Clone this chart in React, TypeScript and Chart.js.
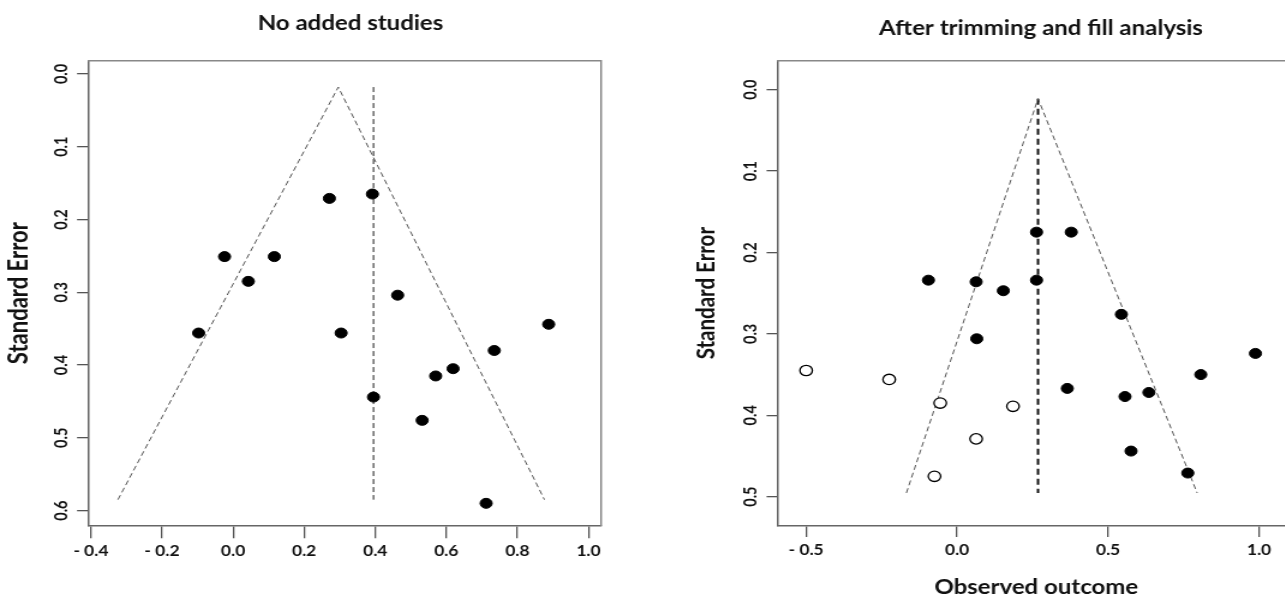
import React, { useEffect, useRef } from "react";
import { Chart, registerables } from "chart.js";

Chart.register(...registerables);

const FONT = "Lato, 'Open Sans', sans-serif";
Chart.defaults.font.family = FONT;

// horizontal stretch of the reference picture
const SX = 1.2;
const H = 598;

// ---------------- shared text ----------------
const yAxisTitle = "Standard Error";
const xAxisTitle = "Observed outcome";

// ---------------- left panel ----------------
const leftTitle = "No added studies";
const leftEffect = [0.271, 0.392, -0.024, 0.116, 0.043, 0.463, -0.097, 0.304, 0.888, 0.735, 0.619, 0.57, 0.395, 0.532, 0.712];
const leftSE = [0.171, 0.165, 0.251, 0.251, 0.285, 0.304, 0.356, 0.356, 0.344, 0.38, 0.405, 0.415, 0.444, 0.476, 0.59];
const leftFunnelEffect = [-0.324, 0.296, 0.876];
const leftFunnelSE = [0.585, 0.018, 0.585];
const leftCentreEffect = [0.395, 0.395];
const leftCentreSE = [0.018, 0.585];
const leftXTicks = [-0.4, -0.2, 0.0, 0.2, 0.4, 0.6, 0.8, 1.0];
const leftYTicks = [0.0, 0.1, 0.2, 0.3, 0.4, 0.5, 0.6];

// ---------------- right panel ----------------
const rightTitle = "After trimming and fill analysis";
const rightEffect = [0.263, 0.378, -0.095, 0.063, 0.153, 0.263, 0.544, 0.065, 0.988, 0.807, 0.365, 0.556, 0.635, 0.576, 0.764];
const rightSE = [0.175, 0.175, 0.234, 0.236, 0.247, 0.234, 0.276, 0.306, 0.324, 0.35, 0.367, 0.377, 0.372, 0.444, 0.471];
const rightFilledEffect = [-0.5, -0.225, -0.056, 0.185, 0.063, -0.075];
const rightFilledSE = [0.345, 0.356, 0.385, 0.389, 0.429, 0.475];
const rightFunnelEffect = [-0.168, 0.268, 0.795];
const rightFunnelSE = [0.4955, 0.011, 0.4955];
const rightCentreEffect = [0.268, 0.268];
const rightCentreSE = [0.011, 0.4955];
const rightXTicks = [-0.5, 0.0, 0.5, 1.0];
const rightYTicks = [0.0, 0.1, 0.2, 0.3, 0.4, 0.5];

const pts = (xs: number[], ys: number[]) => xs.map((x, i) => ({ x, y: ys[i] }));
const fmtX = (v: number) => (v < 0 ? "- " + Math.abs(v).toFixed(1) : v.toFixed(1));
const fmtY = (v: number) => Math.abs(v).toFixed(1);

type Layout = {
  canvasW: number;
  pageLeft: number;
  xRange: [number, number];
  yRange: [number, number];
  yAxisW: number;
  y2W: number;
  x2H: number;
  xAxisH: number;
  titleSize: number;
  titlePadTop: number;
  yTickLen: number;
  xTickLen: number;
  yTickPad: number;
  xTickPad: number;
  tickSize: number;
  tickWeight: string;
  yTitleSize: number;
  yTitlePadTop: number;
  xTitle: string | null;
  xTitleSize: number;
};

const leftLayout: Layout = {
  canvasW: 584,
  pageLeft: 0,
  xRange: [-0.4053, 1.034],
  yRange: [-0.0178, 0.6202],
  yAxisW: 74.17,
  y2W: 83.67,
  x2H: 25.7,
  xAxisH: 72.7,
  titleSize: 20,
  titlePadTop: 11.3,
  yTickLen: 10,
  xTickLen: 13,
  yTickPad: 3,
  xTickPad: 4.5,
  tickSize: 14.5,
  tickWeight: "bold",
  yTitleSize: 22,
  yTitlePadTop: 2.6,
  xTitle: null,
  xTitleSize: 20,
};

const rightLayout: Layout = {
  canvasW: 668,
  pageLeft: 640,
  xRange: [-0.5923, 1.1168],
  yRange: [-0.0353, 0.5352],
  yAxisW: 115.17,
  y2W: 123,
  x2H: 20.7,
  xAxisH: 72.7,
  titleSize: 20,
  titlePadTop: 16.3,
  yTickLen: 9.75,
  xTickLen: 11.7,
  yTickPad: 3,
  xTickPad: 4.3,
  tickSize: 14.5,
  tickWeight: "bold",
  yTitleSize: 20.5,
  yTitlePadTop: 43.3,
  xTitle: xAxisTitle,
  xTitleSize: 20,
};

const BOX = "#666";
const TICK = "#555";
const TEXT = "#111";

function buildConfig(L: Layout, title: string, datasets: any[], xTicks: number[], yTicks: number[]): any {
  const tickFont = { family: FONT, size: L.tickSize, weight: L.tickWeight, lineHeight: 1.2 };
  return {
    type: "scatter",
    data: { datasets },
    options: {
      animation: false,
      responsive: false,
      maintainAspectRatio: false,
      events: [],
      layout: { padding: 0, autoPadding: false },
      plugins: {
        legend: { display: false },
        tooltip: { enabled: false },
        title: {
          display: true,
          text: title,
          color: TEXT,
          font: { family: FONT, size: L.titleSize, weight: "bold", lineHeight: 1.2 },
          padding: { top: L.titlePadTop, bottom: 0 },
        },
      },
      scales: {
        x: {
          type: "linear",
          position: "bottom",
          min: L.xRange[0],
          max: L.xRange[1],
          afterBuildTicks: (s: any) => {
            s.ticks = xTicks.map((value) => ({ value }));
          },
          afterFit: (s: any) => {
            s.height = L.xAxisH;
          },
          ticks: {
            callback: (v: any) => fmtX(Number(v)),
            font: tickFont,
            color: TEXT,
            padding: L.xTickPad,
            minRotation: 0,
            maxRotation: 0,
            autoSkip: false,
          },
          grid: { display: true, drawOnChartArea: false, drawTicks: true, tickLength: L.xTickLen, color: TICK, lineWidth: 1.3 },
          border: { display: true, color: BOX, width: 1.5 },
          title: L.xTitle
            ? {
                display: true,
                text: L.xTitle,
                color: TEXT,
                font: { family: FONT, size: L.xTitleSize, weight: "bold", lineHeight: 1 },
                padding: { top: 0, bottom: 0 },
              }
            : { display: false },
        },
        y: {
          type: "linear",
          position: "left",
          reverse: true,
          min: L.yRange[0],
          max: L.yRange[1],
          afterBuildTicks: (s: any) => {
            s.ticks = yTicks.map((value) => ({ value }));
          },
          afterFit: (s: any) => {
            s.width = L.yAxisW;
          },
          ticks: {
            callback: (v: any) => fmtY(Number(v)),
            font: tickFont,
            color: TEXT,
            padding: L.yTickPad,
            minRotation: 90,
            maxRotation: 90,
            crossAlign: "center",
            autoSkip: false,
          },
          grid: { display: true, drawOnChartArea: false, drawTicks: true, tickLength: L.yTickLen, color: TICK, lineWidth: 1.3 },
          border: { display: true, color: BOX, width: 1.5 },
          title: {
            display: true,
            text: yAxisTitle,
            color: TEXT,
            font: { family: FONT, size: L.yTitleSize, weight: "bold", lineHeight: 1.2 },
            padding: { top: L.yTitlePadTop, bottom: 0 },
          },
        },
        xTop: {
          type: "linear",
          position: "top",
          min: L.xRange[0],
          max: L.xRange[1],
          ticks: { display: false },
          grid: { display: false },
          border: { display: true, color: "#888", width: 1.5 },
          afterFit: (s: any) => {
            s.height = L.x2H;
          },
        },
        yRight: {
          type: "linear",
          position: "right",
          reverse: true,
          min: L.yRange[0],
          max: L.yRange[1],
          ticks: { display: false },
          grid: { display: false },
          border: { display: true, color: "#888", width: 1.5 },
          afterFit: (s: any) => {
            s.width = L.y2W;
          },
        },
      },
    },
  };
}

const filledPoints = (label: string, xs: number[], ys: number[]) => ({
  label,
  data: pts(xs, ys),
  showLine: false,
  pointRadius: 5,
  pointBackgroundColor: "#000",
  pointBorderColor: "#000",
  pointBorderWidth: 1,
});

const openPoints = (label: string, xs: number[], ys: number[]) => ({
  label,
  data: pts(xs, ys),
  showLine: false,
  pointRadius: 5.2,
  pointBackgroundColor: "#fff",
  pointBorderColor: "#000",
  pointBorderWidth: 1.3,
});

const dashedLine = (label: string, xs: number[], ys: number[], color: string, width: number, dash: number[]) => ({
  label,
  data: pts(xs, ys),
  showLine: true,
  pointRadius: 0,
  borderColor: color,
  borderWidth: width,
  borderDash: dash,
  fill: false,
  tension: 0,
});

function Panel({ layout, config }: { layout: Layout; config: any }) {
  const ref = useRef<HTMLCanvasElement>(null);
  useEffect(() => {
    const chart = new Chart(ref.current as HTMLCanvasElement, config);
    return () => chart.destroy();
  }, []);
  return (
    <canvas
      ref={ref}
      width={layout.canvasW}
      height={H}
      style={{
        position: "absolute",
        left: layout.pageLeft + "px",
        top: "0px",
        width: layout.canvasW * SX + "px",
        height: H + "px",
      }}
    />
  );
}

export default function App() {
  const leftConfig = buildConfig(
    leftLayout,
    leftTitle,
    [
      filledPoints("Studies", leftEffect, leftSE),
      dashedLine("Funnel", leftFunnelEffect, leftFunnelSE, "#555", 1, [5, 3]),
      dashedLine("Estimate", leftCentreEffect, leftCentreSE, "#222", 1, [5, 3]),
    ],
    leftXTicks,
    leftYTicks
  );
  const rightConfig = buildConfig(
    rightLayout,
    rightTitle,
    [
      filledPoints("Observed studies", rightEffect, rightSE),
      openPoints("Filled studies", rightFilledEffect, rightFilledSE),
      dashedLine("Funnel", rightFunnelEffect, rightFunnelSE, "#555", 1, [5, 3]),
      dashedLine("Estimate", rightCentreEffect, rightCentreSE, "#111", 2, [6, 4]),
    ],
    rightXTicks,
    rightYTicks
  );
  return (
    <div
      style={{
        position: "fixed",
        left: 0,
        top: 0,
        width: "1285px",
        height: H + "px",
        overflow: "hidden",
        background: "#fff",
      }}
    >
      <Panel layout={leftLayout} config={leftConfig} />
      <Panel layout={rightLayout} config={rightConfig} />
    </div>
  );
}
